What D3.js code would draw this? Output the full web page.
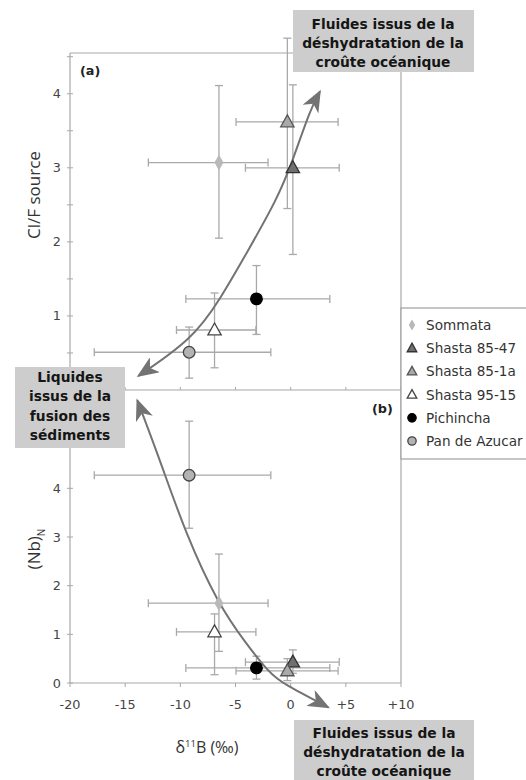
<!DOCTYPE html>
<html><head><meta charset="utf-8">
<script src="https://cdn.jsdelivr.net/npm/d3@7"></script>
<style>body{margin:0;background:#fff}</style>
</head><body>
<script>
// ---------- DATA ----------
const series = ["Sommata","Shasta 85-47","Shasta 85-1a","Shasta 95-15","Pichincha","Pan de Azucar"];
const symbols = ["diamond","triangle","triangle","triangle","circle","circle"];
const fills = ["#b9b9b9","#707070","#a9a9a9","#ffffff","#000000","#b3b3b3"];
const strokes = ["none","#333333","#555555","#444444","#000000","#444444"];
// d11B values (x) with error ranges
const d11B    = [-6.5, 0.2, -0.3, -6.9, -3.1, -9.2];
const d11BLo  = [-12.9, -4.1, -4.95, -10.35, -9.5, -17.8];
const d11BHi  = [-2.05, 4.4, 4.3, -3.15, 3.55, -1.8];
// panel (a) Cl/F source
const clf     = [3.07, 3.0, 3.62, 0.81, 1.23, 0.51];
const clfLo   = [2.05, 1.83, 2.45, 0.30, 0.75, 0.16];
const clfHi   = [4.11, 4.12, 4.75, 1.31, 1.68, 0.85];
// panel (b) (Nb)N
const nb      = [1.64, 0.43, 0.25, 1.05, 0.31, 4.27];
const nbLo    = [0.65, 0.20, 0.05, 0.17, 0.08, 3.18];
const nbHi    = [2.65, 0.68, 0.50, 1.42, 0.55, 5.38];
// trend arrows (data coords)
const curveA = [[-13.8,0.19],[-8.95,0.68],[-6.4,1.22],[-3.8,1.9],[-1.25,2.57],[0.2,3.1],[1.75,3.78],[2.65,4.03]];
const curveB = [[3.4,-0.5],[-0.8,0.0],[-1.9,0.2],[-4.15,0.84],[-6.6,1.64],[-9.4,3.0],[-11.85,4.58],[-13.9,5.81]];
const xTicks = [-20,-15,-10,-5,0,5,10];
const xTickLabels = ["-20","-15","-10","-5","0","+5","+10"];
const yTicksA = [0.5,1,1.5,2,2.5,3,3.5,4,4.5];
const yLabelsA = [1,2,3,4];
const yTicksB = [0,1,2,3,4,5];
const yLabelsB = [0,1,2,3,4];
const boxTop = ["Fluides issus de la","déshydratation de la","croûte océanique"];
const boxLeft = ["Liquides","issus de la","fusion des","sédiments"];

// ---------- LAYOUT ----------
const W=526,H=780;
const svg=d3.select("body").append("svg").attr("width",W).attr("height",H)
  .style("font-family","'DejaVu Sans',Verdana,sans-serif");
const x=d3.scaleLinear().domain([-20,10]).range([70,401]);
const yA=d3.scaleLinear().domain([0,4.55]).range([390,53]);
const yB=d3.scaleLinear().domain([0,6]).range([683,391]);
const axisCol="#a8a8a8", tickTxt="#444";

const defs=svg.append("defs");
function marker(id,d,refX){
  defs.append("marker").attr("id",id).attr("viewBox","0 0 22 18").attr("refX",refX).attr("refY",9)
    .attr("markerWidth",22).attr("markerHeight",18).attr("markerUnits","userSpaceOnUse").attr("orient","auto")
    .append("path").attr("d",d).attr("fill","#737373");
}
marker("ahEnd","M0,0 L22,9 L0,18 L6,9 Z",20);
marker("ahStart","M22,0 L0,9 L22,18 L16,9 Z",2);

// frame
const g=svg.append("g");
function hline(y0){g.append("line").attr("x1",x(-20)).attr("x2",x(10)).attr("y1",y0).attr("y2",y0).attr("stroke",axisCol).attr("stroke-width",1.2);}
function vline(x0){g.append("line").attr("x1",x0).attr("x2",x0).attr("y1",yA.range()[1]).attr("y2",yB(0)).attr("stroke",axisCol).attr("stroke-width",1.2);}
vline(x(-20)); vline(x(10));
hline(yA.range()[1]); hline(yA(0)); hline(yB(0));

// ticks
xTicks.forEach((t,i)=>{
  g.append("line").attr("x1",x(t)).attr("x2",x(t)).attr("y1",yB(0)).attr("y2",yB(0)+4).attr("stroke",axisCol);
  g.append("line").attr("x1",x(t)).attr("x2",x(t)).attr("y1",yA(0)).attr("y2",yA(0)-3).attr("stroke",axisCol);
  g.append("text").attr("x",x(t)).attr("y",yB(0)+26).attr("text-anchor","middle").attr("font-size",12.8).attr("fill",tickTxt).text(xTickLabels[i]);
});
yTicksA.forEach(t=>g.append("line").attr("x1",x(-20)-3).attr("x2",x(-20)+3).attr("y1",yA(t)).attr("y2",yA(t)).attr("stroke",axisCol));
yLabelsA.forEach(t=>g.append("text").attr("x",x(-20)-9).attr("y",yA(t)+4.5).attr("text-anchor","end").attr("font-size",12.8).attr("fill",tickTxt).text(t));
yTicksB.forEach(t=>g.append("line").attr("x1",x(-20)-3).attr("x2",x(-20)+3).attr("y1",yB(t)).attr("y2",yB(t)).attr("stroke",axisCol));
yLabelsB.forEach(t=>g.append("text").attr("x",x(-20)-9).attr("y",yB(t)+4.5).attr("text-anchor","end").attr("font-size",12.8).attr("fill",tickTxt).text(t));

// axis titles
g.append("text").attr("transform","translate(40,195) rotate(-90)").attr("text-anchor","middle")
  .attr("font-family","'Open Sans','Noto Sans',sans-serif").attr("font-size",17).attr("fill","#333").text("Cl/F source");
const tNb=g.append("text").attr("transform","translate(40,549) rotate(-90)").attr("text-anchor","middle")
  .attr("font-family","'Open Sans','Noto Sans',sans-serif").attr("font-size",17).attr("fill","#333");
tNb.append("tspan").text("(Nb)");
tNb.append("tspan").attr("font-size",10).attr("dy",5).text("N");
const tX=g.append("text").attr("x",207).attr("y",753).attr("text-anchor","middle")
  .attr("font-family","'Open Sans','Noto Sans',sans-serif").attr("font-size",16).attr("fill","#333");
tX.append("tspan").text("δ");
tX.append("tspan").attr("font-size",9.5).attr("dy",-6).text("11");
tX.append("tspan").attr("dy",6).text("B (‰)");

g.append("text").attr("x",80).attr("y",75).attr("font-weight","bold").attr("font-size",12.8).attr("fill","#222").text("(a)");
g.append("text").attr("x",372).attr("y",413).attr("font-weight","bold").attr("font-size",12.8).attr("fill","#222").text("(b)");

// symbols
function sym(sel,i,cx,cy,scale){
  const s=scale||1;
  if(symbols[i]==="diamond"){
    sel.append("path").attr("d",d3.symbol().type(d3.symbolDiamond).size(70*s*s)()).attr("transform",`translate(${cx},${cy})`).attr("fill",fills[i]).attr("stroke",strokes[i]);
  } else if(symbols[i]==="triangle"){
    const r=7*s;
    sel.append("path").attr("d",`M${cx},${cy-r} L${cx+r*0.95},${cy+r*0.7} L${cx-r*0.95},${cy+r*0.7} Z`).attr("fill",fills[i]).attr("stroke",strokes[i]).attr("stroke-width",1.3);
  } else {
    sel.append("circle").attr("cx",cx).attr("cy",cy).attr("r",5.8*s).attr("fill",fills[i]).attr("stroke",strokes[i]).attr("stroke-width",1.3);
  }
}
function errBars(ys,vals,lo,hi){
  const eg=svg.append("g").attr("stroke","#a9a9a9").attr("stroke-width",1.3);
  series.forEach((s,i)=>{
    const cx=x(d11B[i]),cy=ys(vals[i]);
    eg.append("line").attr("x1",x(d11BLo[i])).attr("x2",x(d11BHi[i])).attr("y1",cy).attr("y2",cy);
    eg.append("line").attr("x1",x(d11BLo[i])).attr("x2",x(d11BLo[i])).attr("y1",cy-4).attr("y2",cy+4);
    eg.append("line").attr("x1",x(d11BHi[i])).attr("x2",x(d11BHi[i])).attr("y1",cy-4).attr("y2",cy+4);
    eg.append("line").attr("x1",cx).attr("x2",cx).attr("y1",ys(lo[i])).attr("y2",ys(hi[i]));
    eg.append("line").attr("x1",cx-4).attr("x2",cx+4).attr("y1",ys(lo[i])).attr("y2",ys(lo[i]));
    eg.append("line").attr("x1",cx-4).attr("x2",cx+4).attr("y1",ys(hi[i])).attr("y2",ys(hi[i]));
  });
}
errBars(yA,clf,clfLo,clfHi);
errBars(yB,nb,nbLo,nbHi);

// trend arrows (double-headed curves)
const lineA=d3.line().x(d=>x(d[0])).y(d=>yA(d[1])).curve(d3.curveBasis);
const lineB=d3.line().x(d=>x(d[0])).y(d=>yB(d[1])).curve(d3.curveBasis);
svg.append("path").attr("d",lineA(curveA)).attr("fill","none").attr("stroke","#737373").attr("stroke-width",2)
  .attr("marker-end","url(#ahEnd)").attr("marker-start","url(#ahStart)");
svg.append("path").attr("d",lineB(curveB)).attr("fill","none").attr("stroke","#737373").attr("stroke-width",2)
  .attr("marker-end","url(#ahEnd)").attr("marker-start","url(#ahStart)");

// points
const pg=svg.append("g");
series.forEach((s,i)=>{ sym(pg,i,x(d11B[i]),yA(clf[i])); sym(pg,i,x(d11B[i]),yB(nb[i])); });

// legend
const lg=svg.append("g");
lg.append("rect").attr("x",401).attr("y",308).attr("width",140).attr("height",151).attr("fill","#fff").attr("stroke","#a0a0a0").attr("stroke-width",1.2);
series.forEach((s,i)=>{
  const ly=325+i*23.2;
  sym(lg,i,412,ly,0.72);
  lg.append("text").attr("x",426).attr("y",ly+5).attr("font-size",13.6).attr("fill","#333").text(s);
});

// annotation boxes
function box(x0,y0,w,h,lines,cx,firstY,lh){
  const bg=svg.append("g");
  bg.append("rect").attr("x",x0).attr("y",y0).attr("width",w).attr("height",h).attr("fill","#cdcdcd");
  lines.forEach((l,i)=>bg.append("text").attr("x",cx).attr("y",firstY+i*lh).attr("text-anchor","middle")
    .attr("font-weight","bold").attr("font-size",13.8).attr("fill","#151515").text(l));
}
box(293,10,181,62,boxTop,383,29,19);
box(15,367,110,81,boxLeft,70,382,19.3);
box(294,720,180,70,boxTop,384,738,19);
</script>
</body></html>
